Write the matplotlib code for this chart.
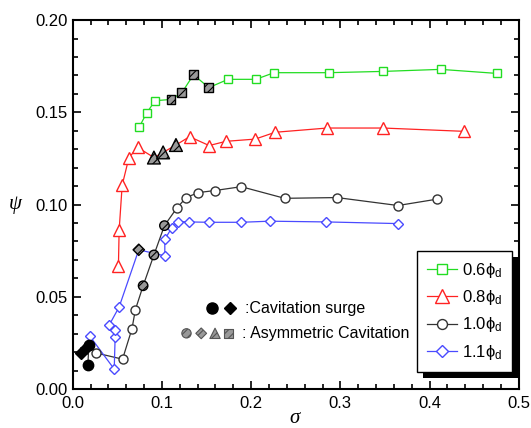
import matplotlib
matplotlib.use("Agg")
import matplotlib.pyplot as plt
from matplotlib.lines import Line2D
from matplotlib.patches import Rectangle
from matplotlib.transforms import IdentityTransform
from matplotlib.ticker import MultipleLocator

plt.rcParams['font.family'] = ['Liberation Sans', 'DejaVu Sans']
plt.rcParams['mathtext.fontset'] = 'custom'
plt.rcParams['mathtext.rm'] = 'Liberation Sans'
plt.rcParams['mathtext.it'] = 'Liberation Serif:italic'
plt.rcParams['mathtext.fallback'] = 'stixsans'
plt.rcParams['hatch.linewidth'] = 0.8

# ---- data ----
# 0.6 phi_d (green squares); hatched = asymmetric cavitation
s06_x = [0.0747, 0.0827, 0.0922, 0.110, 0.1222, 0.1354, 0.1525, 0.1741, 0.2052, 0.2257, 0.2868, 0.3483, 0.4124, 0.4757]
s06_y = [0.1422, 0.1495, 0.1563, 0.1570, 0.1606, 0.1704, 0.1634, 0.1679, 0.1679, 0.1715, 0.1715, 0.1722, 0.1733, 0.1711]
s06_asym = [3, 4, 5, 6]

# 0.8 phi_d (red triangles)
s08_x = [0.0512, 0.0520, 0.0554, 0.0630, 0.0728, 0.0910, 0.1013, 0.1157, 0.1309, 0.1529, 0.1719, 0.2045, 0.2269, 0.2853, 0.3479, 0.4389]
s08_y = [0.0668, 0.0860, 0.1105, 0.1255, 0.1310, 0.1255, 0.1283, 0.1323, 0.1368, 0.1320, 0.1343, 0.1355, 0.1392, 0.1415, 0.1415, 0.1397]
s08_asym = [5, 6, 7]

# 1.0 phi_d (black circles)
s10_x = [0.0170, 0.0180, 0.0266, 0.0558, 0.0664, 0.0702, 0.0789, 0.0910, 0.1028, 0.1165, 0.1271, 0.1407, 0.1590, 0.1889, 0.2375, 0.2963, 0.3646, 0.4078]
s10_y = [0.0130, 0.0240, 0.0195, 0.0162, 0.0327, 0.0430, 0.0560, 0.0727, 0.0886, 0.0980, 0.1038, 0.1065, 0.1076, 0.1097, 0.1034, 0.1038, 0.0995, 0.1029]
s10_surge = [0, 1]
s10_asym = [6, 7, 8]

# 1.1 phi_d (blue diamonds)
s11_x = [0.0095, 0.0150, 0.0194, 0.0465, 0.0475, 0.0470, 0.0410, 0.0520, 0.0740, 0.1032, 0.1032, 0.1108, 0.1184, 0.1301, 0.1525, 0.1885, 0.2208, 0.2841, 0.3646]
s11_y = [0.0195, 0.0225, 0.0285, 0.0108, 0.0280, 0.0318, 0.0348, 0.0445, 0.0755, 0.0722, 0.0812, 0.0872, 0.0908, 0.0906, 0.0904, 0.0904, 0.0910, 0.0906, 0.0897]
s11_surge = [0, 1]
s11_asym = [8]

legend_labels = [r'0.6$\mathrm{\phi}_{\rm d}$', r'0.8$\mathrm{\phi}_{\rm d}$',
                 r'1.0$\mathrm{\phi}_{\rm d}$', r'1.1$\mathrm{\phi}_{\rm d}$']
note_surge = ':Cavitation surge'
note_asym = ': Asymmetric Cavitation'

# ---- plot ----
fig = plt.figure(figsize=(5.31, 4.28), dpi=100)
ax = fig.add_axes([0.137, 0.091, 0.840, 0.862])

series = [
    (s06_x, s06_y, 's', '#22dd22', 6.0, [], s06_asym),
    (s08_x, s08_y, '^', '#ff2222', 8.8, [], s08_asym),
    (s10_x, s10_y, 'o', '#333333', 6.5, s10_surge, s10_asym),
    (s11_x, s11_y, 'D', '#4a4aff', 5.5, s11_surge, s11_asym),
]

handles = []
for (xs, ys, m, c, ms, surge, asym), lab in zip(series, legend_labels):
    ax.plot(xs, ys, '-', color=c, lw=0.9, zorder=2)
    open_idx = [i for i in range(len(xs)) if i not in surge and i not in asym]
    ax.plot([xs[i] for i in open_idx], [ys[i] for i in open_idx], ls='none',
            marker=m, ms=ms, mfc='white', mec=c, mew=1.0, zorder=3)
    if asym:
        ax.scatter([xs[i] for i in asym], [ys[i] for i in asym], marker=m, s=ms**2 * 1.1,
                   facecolor='#999999', edgecolor='black', linewidths=1.0,
                   hatch='////', zorder=4)
    if surge:
        ax.plot([xs[i] for i in surge], [ys[i] for i in surge], ls='none',
                marker=m, ms=ms * 1.15, mfc='black', mec='black', zorder=4)
    handles.append(Line2D([], [], color=c, lw=0.9, marker=m, ms=ms * 1.1,
                          mfc='white', mec=c, mew=1.0))

ax.set_xlim(0, 0.5)
ax.set_ylim(0, 0.2)
ax.xaxis.set_major_locator(MultipleLocator(0.1))
ax.xaxis.set_minor_locator(MultipleLocator(0.02))
ax.yaxis.set_major_locator(MultipleLocator(0.05))
ax.yaxis.set_minor_locator(MultipleLocator(0.01))
ax.xaxis.set_major_formatter(plt.FuncFormatter(lambda v, p: f'{v:.1f}'))
ax.yaxis.set_major_formatter(plt.FuncFormatter(lambda v, p: f'{v:.2f}'))
ax.tick_params(which='both', direction='in', top=True, right=True, labelsize=12, width=1.2, color='black')
ax.tick_params(which='major', length=6)
ax.tick_params(which='minor', length=3.5)
ax.tick_params(axis='x', pad=5)
for sp in ax.spines.values():
    sp.set_linewidth(1.5)

ax.set_xlabel(r'$\sigma$', fontsize=15, labelpad=-2)
ax.set_ylabel(r'$\psi$', fontsize=15, rotation=0, va='center', ha='center')
ax.yaxis.set_label_coords(-0.129, 0.5)

leg = ax.legend(handles, legend_labels, loc='upper left', bbox_to_anchor=(0.771, 0.375),
                borderaxespad=0, fontsize=12, frameon=True, fancybox=False, edgecolor='black',
                facecolor='white', framealpha=1.0,
                handlelength=1.8, handletextpad=0.3, borderpad=0.6, labelspacing=0.5)
leg.get_frame().set_linewidth(1.0)
leg.set_zorder(10)

# annotation notes (in axes fraction)
tr = ax.transAxes
ax.plot([0.313], [0.219], 'o', ms=8, color='black', transform=tr, clip_on=False)
ax.plot([0.353], [0.219], 'D', ms=6.5, color='black', transform=tr, clip_on=False)
ax.text(0.386, 0.219, note_surge, transform=tr, fontsize=11.5, va='center', ha='left')
for xx, mk, ss in [(0.255, 'o', 45), (0.288, 'D', 30), (0.319, '^', 55), (0.350, 's', 40)]:
    ax.scatter([xx], [0.151], marker=mk, s=ss, facecolor='#999999', edgecolor='#555555',
               linewidths=0.8, hatch='////', transform=tr, clip_on=False)
ax.text(0.380, 0.151, note_asym, transform=tr, fontsize=11.5, va='center', ha='left')

# legend drop shadow
fig.canvas.draw()
bb = leg.get_frame().get_window_extent(fig.canvas.get_renderer())
shadow = Rectangle((bb.x0 + 6, bb.y0 - 6), bb.width, bb.height, transform=IdentityTransform(),
                   facecolor='black', edgecolor='none', zorder=9, clip_on=False)
ax.add_artist(shadow)

fig.savefig('out.png', dpi=100)
